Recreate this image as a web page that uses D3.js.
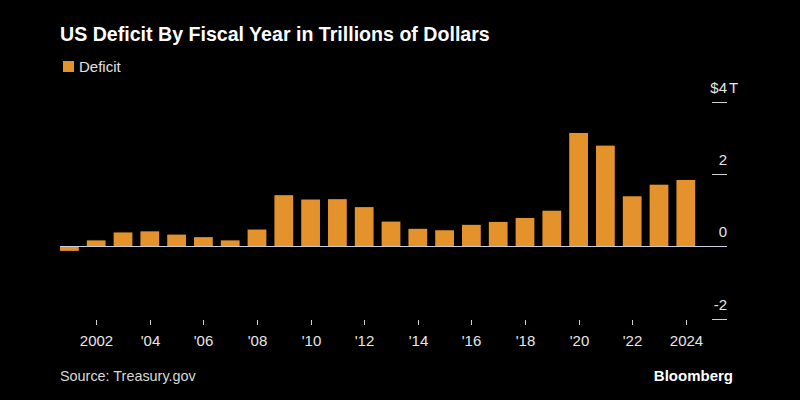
<!DOCTYPE html>
<html>
<head>
<meta charset="utf-8">
<script src="https://cdn.jsdelivr.net/npm/d3@7"></script>
<style>
  html, body { margin: 0; padding: 0; background: #000; }
  svg { display: block; }
  text { font-family: "Liberation Sans", Arial, Helvetica, sans-serif; }
</style>
</head>
<body>
<svg id="chart" width="800" height="400"></svg>
<script>
// ---- Data ----
const years = [2001, 2002, 2003, 2004, 2005, 2006, 2007, 2008, 2009, 2010, 2011, 2012,
               2013, 2014, 2015, 2016, 2017, 2018, 2019, 2020, 2021, 2022, 2023, 2024];
const deficit = [-0.13, 0.16, 0.38, 0.41, 0.32, 0.25, 0.16, 0.46, 1.41, 1.29, 1.30, 1.08,
                 0.68, 0.48, 0.44, 0.59, 0.67, 0.78, 0.98, 3.13, 2.78, 1.38, 1.70, 1.83];
const yTicks = [4, 2, 0, -2];
const xTickYears = [2002, 2004, 2006, 2008, 2010, 2012, 2014, 2016, 2018, 2020, 2022, 2024];
const xTickLabels = ["2002", "'04", "'06", "'08", "'10", "'12", "'14", "'16", "'18", "'20", "'22", "2024"];

const title = "US Deficit By Fiscal Year in Trillions of Dollars";
const seriesName = "Deficit";
const source = "Source: Treasury.gov";

const barColor = "#e3922c";

const svg = d3.select("#chart");
svg.append("rect").attr("width", 800).attr("height", 400).attr("fill", "#000");

const x = d3.scaleBand().domain(years).range([56, 699.2]).paddingInner(0.3).paddingOuter(0.15);
const y = d3.scaleLinear().domain([-2, 4]).range([318.5, 101.5]);

// Title
svg.append("text").attr("x", 60).attr("y", 41)
  .attr("fill", "#fff").attr("font-size", 19.6).attr("font-weight", "bold")
  .text(title);

// Legend
svg.append("rect").attr("x", 63).attr("y", 61).attr("width", 11).attr("height", 11).attr("fill", barColor);
svg.append("text").attr("x", 79).attr("y", 72).attr("fill", "#e0e0e0").attr("font-size", 15).text(seriesName);

// Y axis (right) ticks + labels
const yAxisG = svg.append("g");
yTicks.forEach(t => {
  if (t !== 0) {
    yAxisG.append("line").attr("x1", 712).attr("x2", 727)
      .attr("y1", Math.round(y(t)) + 0.5).attr("y2", Math.round(y(t)) + 0.5)
      .attr("stroke", "#cfcfcf").attr("stroke-width", 1);
  }
  yAxisG.append("text").attr("x", 727).attr("y", y(t) - 9)
    .attr("text-anchor", "end").attr("fill", "#e6e6e6").attr("font-size", 15)
    .text(t === 4 ? "$" + t : String(t));
  if (t === 4) {
    yAxisG.append("text").attr("x", 729).attr("y", y(t) - 9)
      .attr("fill", "#e6e6e6").attr("font-size", 15).text("T");
  }
});

// Bars
svg.append("g").selectAll("rect").data(years).join("rect")
  .attr("x", d => x(d))
  .attr("width", x.bandwidth())
  .attr("y", (d, i) => y(Math.max(0, deficit[i])))
  .attr("height", (d, i) => Math.abs(y(deficit[i]) - y(0)))
  .attr("fill", barColor);

// Zero line
svg.append("line").attr("x1", x(years[0])).attr("x2", 727)
  .attr("y1", Math.round(y(0)) + 0.5).attr("y2", Math.round(y(0)) + 0.5)
  .attr("stroke", "#c8cde0").attr("stroke-width", 1);

// X axis ticks and labels
const xg = svg.append("g");
xTickYears.forEach((yr, i) => {
  const cx = Math.round(x(yr) + x.bandwidth() / 2) + 0.5;
  xg.append("line").attr("x1", cx).attr("x2", cx).attr("y1", 320).attr("y2", 325)
    .attr("stroke", "#cfcfcf").attr("stroke-width", 1);
  xg.append("text").attr("x", cx).attr("y", 346).attr("text-anchor", "middle")
    .attr("fill", "#e6e6e6").attr("font-size", 15).text(xTickLabels[i]);
});

// Footer
svg.append("text").attr("x", 60).attr("y", 381).attr("fill", "#d8d8d8").attr("font-size", 14.4).text(source);
svg.append("text").attr("x", 733).attr("y", 381).attr("text-anchor", "end")
  .attr("fill", "#fff").attr("font-size", 15).attr("font-weight", "bold").text("Bloomberg");
</script>
</body>
</html>
